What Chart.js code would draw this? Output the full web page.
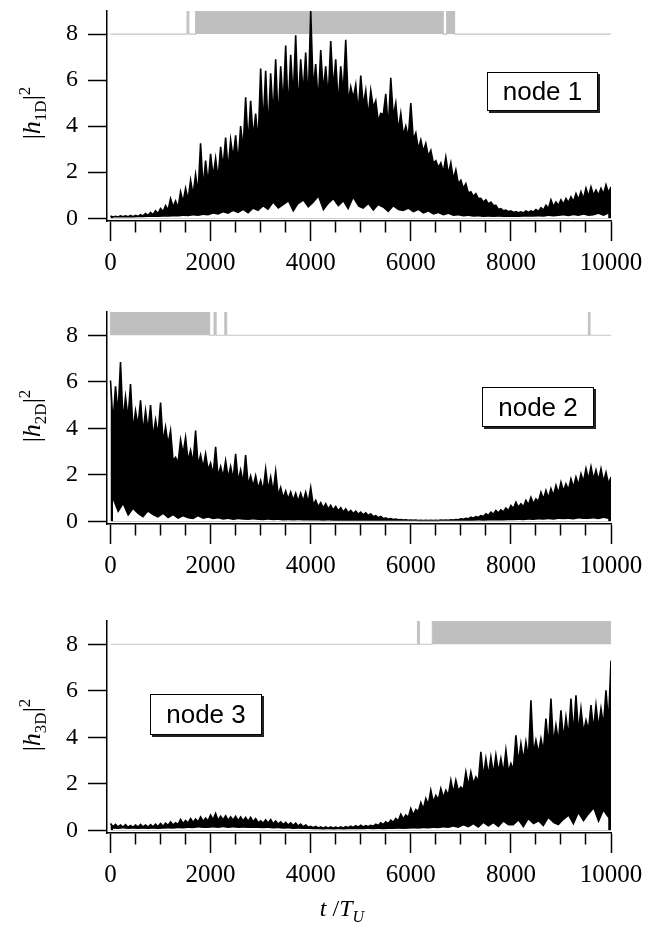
<!DOCTYPE html>
<html>
<head>
<meta charset="utf-8">
<script src="https://cdn.jsdelivr.net/npm/chart.js@4.4.0/dist/chart.umd.min.js"></script>
<style>
  body { margin: 0; background: #fff; }
  #wrap { position: relative; width: 647px; height: 932px; overflow: hidden; }
  canvas { position: absolute; left: 0; }
  .ylab {
    position: absolute; white-space: nowrap;
    font-family: "Liberation Serif", serif; font-size: 26px; line-height: 1;
    transform: translate(-50%, -50%) rotate(-90deg);
  }
  .ylab sub, .ylab sup { font-size: 17px; line-height: 0; }
  .xtitle sub { font-size: 16px; line-height: 0; }
  .node {
    position: absolute; box-sizing: border-box; background: #fff;
    border: 1.5px solid #000; box-shadow: 2px 2px 0 #222;
    font-family: "Liberation Sans", Arial, sans-serif; font-size: 26px;
    display: flex; align-items: center; justify-content: center;
  }
  .xtitle {
    position: absolute; white-space: nowrap; transform: translate(-50%, -50%);
    font-family: "Liberation Serif", serif; font-size: 24px; line-height: 1;
  }
</style>
</head>
<body>
<div id="wrap">
  <canvas id="p1" width="647" height="300" style="top:0px"></canvas>
  <canvas id="p2" width="647" height="300" style="top:301px"></canvas>
  <canvas id="p3" width="647" height="322" style="top:610px"></canvas>

  <div class="ylab" style="left:32px;top:113px">|<i>h</i><sub>1D</sub>|<sup>2</sup></div>
  <div class="ylab" style="left:32px;top:416px">|<i>h</i><sub>2D</sub>|<sup>2</sup></div>
  <div class="ylab" style="left:32px;top:725px">|<i>h</i><sub>3D</sub>|<sup>2</sup></div>

  <div class="node" style="left:487px;top:72px;width:111px;height:39px">node 1</div>
  <div class="node" style="left:482px;top:387px;width:112px;height:40px">node 2</div>
  <div class="node" style="left:150px;top:694px;width:112px;height:41px">node 3</div>

  <div class="xtitle" style="left:342px;top:908px"><i>t</i> /<i>T</i><sub><i>U</i></sub></div>
</div>

<script>
// peaks sit on multiples of 100; valleys and lower edge halfway between
const tStep = 100;
const tEnd = 10000;
const yTicks = [0, 2, 4, 6, 8];
const xMajorTicks = [0, 2000, 4000, 6000, 8000, 10000];
const xMinorStep = 500;
const bandLow = 8;
const bandHigh = 9;

// node 1
const node1Peaks = [
  0.1, 0.08, 0.1, 0.1, 0.12, 0.12, 0.15, 0.2, 0.25, 0.32,
  0.42, 0.55, 0.85, 0.75, 1.15, 1.3, 1.65, 1.9, 3.25, 2.5,
  2.8, 2.6, 3.1, 3.5, 3.4, 3.6, 4.0, 5.25, 5.1, 4.55,
  6.5, 6.4, 6.3, 6.9, 6.6, 7.5, 7.1, 7.95, 6.9, 7.2,
  9.0, 6.7, 7.3, 6.6, 7.7, 6.9, 6.6, 7.75, 5.7, 5.8,
  6.2, 5.55, 5.55, 5.1, 4.55, 5.4, 6.1, 5.0, 4.55, 4.0,
  5.0, 3.7, 3.4, 3.25, 2.95, 2.5, 2.4, 2.65, 2.4, 2.1,
  1.65, 1.5, 1.15, 1.07, 0.86, 0.8, 0.7, 0.56, 0.42, 0.35,
  0.32, 0.29, 0.28, 0.32, 0.32, 0.38, 0.46, 0.56, 0.8, 0.7,
  0.8, 0.86, 0.93, 1.07, 1.15, 1.3, 1.36, 1.22, 1.3, 1.45, 1.36
];
// top of the solid black part between spikes
const node1Valleys = [
  0.05, 0.05, 0.06, 0.06, 0.07, 0.08, 0.1, 0.12, 0.15, 0.2,
  0.28, 0.35, 0.5, 0.45, 0.7, 0.8, 1.0, 1.1, 1.3, 1.5,
  1.8, 1.7, 2.2, 2.1, 2.6, 2.4, 3.0, 3.2, 3.5, 3.3,
  4.0, 3.8, 4.4, 4.2, 4.9, 4.6, 5.2, 4.8, 5.4, 5.0,
  5.6, 5.0, 5.5, 5.2, 5.6, 4.9, 5.4, 5.0, 5.2, 4.6,
  4.9, 4.4, 4.8, 4.2, 4.5, 3.9, 4.4, 3.8, 3.6, 3.5,
  3.4, 3.0, 2.9, 2.7, 2.4, 2.2, 2.0, 1.9, 1.7, 1.5,
  1.3, 1.1, 0.95, 0.85, 0.7, 0.62, 0.55, 0.38, 0.32, 0.28,
  0.25, 0.24, 0.23, 0.25, 0.27, 0.3, 0.35, 0.42, 0.5, 0.55,
  0.6, 0.68, 0.72, 0.8, 0.85, 0.95, 1.0, 1.0, 1.05, 1.1
];
// lower edge of the trace
const node1Troughs = [
  0.03, 0.03, 0.03, 0.03, 0.03, 0.04, 0.04, 0.05, 0.05, 0.05,
  0.06, 0.07, 0.08, 0.08, 0.1, 0.09, 0.12, 0.1, 0.14, 0.12,
  0.2, 0.15, 0.25, 0.18, 0.3, 0.22, 0.35, 0.2, 0.4, 0.3,
  0.5, 0.35, 0.65, 0.4, 0.55, 0.7, 0.25, 0.6, 0.75, 0.45,
  0.65, 0.9, 0.3, 0.6, 0.8, 0.5, 0.7, 0.35, 0.85, 0.5,
  0.4, 0.6, 0.3, 0.55, 0.45, 0.25, 0.5, 0.35, 0.3, 0.4,
  0.25, 0.35, 0.2, 0.28, 0.15, 0.22, 0.12, 0.18, 0.1, 0.12,
  0.08, 0.1, 0.06, 0.08, 0.05, 0.07, 0.05, 0.06, 0.05, 0.05,
  0.05, 0.05, 0.06, 0.06, 0.07, 0.08, 0.07, 0.1, 0.08, 0.1,
  0.12, 0.09, 0.13, 0.1, 0.15, 0.1, 0.12, 0.18, 0.1, 0.2
];
const node1Bands = [[1530, 1565], [1700, 6650], [6715, 6875]];

// node 2
const node2Peaks = [
  6.05, 5.8, 6.85, 5.35, 5.9, 4.75, 5.2, 4.75, 5.0, 4.35,
  5.1, 4.05, 3.9, 2.75, 3.5, 3.6, 3.05, 3.9, 2.85, 2.9,
  2.5, 3.2, 2.35, 2.6, 2.35, 2.9, 2.2, 2.85, 1.95, 1.95,
  1.75, 2.25, 1.9, 2.15, 1.45, 1.3, 1.25, 1.2, 1.2, 1.25,
  1.45, 0.9, 0.8, 0.75, 0.68, 0.63, 0.58, 0.53, 0.46, 0.43,
  0.39, 0.36, 0.32, 0.24, 0.2, 0.14, 0.11, 0.09, 0.07, 0.06,
  0.05, 0.05, 0.04, 0.04, 0.04, 0.04, 0.05, 0.05, 0.06, 0.07,
  0.1, 0.12, 0.17, 0.2, 0.24, 0.32, 0.39, 0.46, 0.49, 0.57,
  0.68, 0.82, 0.75, 0.9, 1.03, 0.96, 1.25, 1.32, 1.4, 1.54,
  1.68, 1.6, 1.82, 1.9, 2.04, 2.26, 2.35, 2.2, 2.26, 2.1, 1.9
];
const node2Valleys = [
  4.2, 4.6, 4.3, 4.4, 3.9, 4.1, 3.8, 3.9, 3.6, 3.7,
  3.4, 3.3, 2.6, 2.5, 2.9, 2.6, 2.5, 2.4, 2.3, 2.2,
  2.0, 1.9, 1.9, 1.85, 1.8, 1.7, 1.65, 1.55, 1.5, 1.4,
  1.3, 1.35, 1.25, 1.1, 1.0, 0.95, 0.9, 0.85, 0.85, 0.8,
  0.7, 0.62, 0.56, 0.52, 0.48, 0.44, 0.4, 0.36, 0.33, 0.3,
  0.27, 0.24, 0.19, 0.15, 0.11, 0.09, 0.07, 0.06, 0.05, 0.04,
  0.04, 0.03, 0.03, 0.03, 0.03, 0.03, 0.04, 0.04, 0.05, 0.06,
  0.08, 0.1, 0.13, 0.16, 0.2, 0.25, 0.3, 0.35, 0.4, 0.45,
  0.55, 0.6, 0.62, 0.7, 0.75, 0.85, 0.95, 1.0, 1.1, 1.2,
  1.3, 1.35, 1.45, 1.55, 1.7, 1.8, 1.8, 1.75, 1.7, 1.6
];
const node2Troughs = [
  0.9, 0.35, 0.7, 0.2, 0.5, 0.3, 0.15, 0.4, 0.25, 0.15,
  0.3, 0.12, 0.25, 0.1, 0.2, 0.12, 0.08, 0.2, 0.1, 0.15,
  0.08, 0.12, 0.06, 0.1, 0.05, 0.08, 0.06, 0.05, 0.07, 0.05,
  0.04, 0.06, 0.04, 0.05, 0.03, 0.04, 0.03, 0.04, 0.03, 0.03,
  0.03, 0.03, 0.02, 0.03, 0.02, 0.02, 0.02, 0.02, 0.02, 0.02,
  0.02, 0.02, 0.02, 0.02, 0.02, 0.02, 0.02, 0.02, 0.02, 0.02,
  0.02, 0.02, 0.02, 0.02, 0.02, 0.02, 0.02, 0.02, 0.02, 0.02,
  0.02, 0.02, 0.02, 0.03, 0.02, 0.03, 0.03, 0.03, 0.03, 0.04,
  0.04, 0.05, 0.04, 0.06, 0.05, 0.07, 0.06, 0.08, 0.06, 0.09,
  0.08, 0.1, 0.07, 0.12, 0.09, 0.1, 0.12, 0.08, 0.14, 0.1
];
const node2Bands = [[0, 1980], [2070, 2110], [2285, 2320], [9550, 9580]];

// node 3
const node3Peaks = [
  0.29, 0.25, 0.22, 0.24, 0.2, 0.22, 0.25, 0.22, 0.24, 0.26,
  0.29, 0.3, 0.36, 0.32, 0.46, 0.42, 0.5, 0.48, 0.57, 0.52,
  0.65, 0.72, 0.6, 0.62, 0.57, 0.6, 0.57, 0.55, 0.55, 0.5,
  0.4, 0.45, 0.46, 0.4, 0.36, 0.34, 0.32, 0.3, 0.26, 0.22,
  0.17, 0.16, 0.14, 0.14, 0.14, 0.13, 0.14, 0.15, 0.17, 0.19,
  0.21, 0.2, 0.21, 0.26, 0.32, 0.36, 0.43, 0.5, 0.69, 0.65,
  0.93, 0.89, 1.19, 1.36, 1.72, 1.5, 1.79, 1.72, 2.15, 2.15,
  1.86, 2.5, 2.5, 2.29, 3.37, 3.08, 3.15, 3.23, 3.08, 3.44,
  2.87, 4.08, 3.73, 3.8, 5.59, 3.87, 3.94, 4.8, 5.66, 4.52,
  5.16, 4.87, 5.66, 5.8, 5.23, 4.73, 5.38, 5.38, 5.23, 6.02, 7.3
];
const node3Valleys = [
  0.15, 0.14, 0.13, 0.13, 0.12, 0.13, 0.14, 0.13, 0.14, 0.15,
  0.17, 0.2, 0.22, 0.25, 0.28, 0.3, 0.33, 0.35, 0.38, 0.4,
  0.45, 0.42, 0.44, 0.42, 0.43, 0.4, 0.4, 0.38, 0.36, 0.32,
  0.3, 0.3, 0.28, 0.26, 0.24, 0.22, 0.2, 0.18, 0.15, 0.13,
  0.11, 0.1, 0.09, 0.09, 0.09, 0.09, 0.1, 0.11, 0.12, 0.13,
  0.14, 0.15, 0.17, 0.2, 0.24, 0.28, 0.34, 0.4, 0.48, 0.55,
  0.65, 0.8, 0.9, 1.1, 1.2, 1.3, 1.4, 1.5, 1.6, 1.7,
  1.75, 1.9, 2.0, 2.1, 2.3, 2.35, 2.4, 2.5, 2.45, 2.5,
  2.6, 2.9, 3.0, 3.1, 3.3, 3.3, 3.4, 3.6, 3.7, 3.8,
  3.9, 4.0, 4.1, 4.2, 4.2, 4.3, 4.3, 4.4, 4.5, 4.6
];
const node3Troughs = [
  0.06, 0.05, 0.07, 0.05, 0.06, 0.05, 0.06, 0.05, 0.06, 0.05,
  0.06, 0.07, 0.06, 0.08, 0.07, 0.1, 0.08, 0.12, 0.09, 0.1,
  0.12, 0.1, 0.13, 0.1, 0.12, 0.1, 0.11, 0.1, 0.09, 0.1,
  0.08, 0.09, 0.07, 0.08, 0.06, 0.07, 0.05, 0.06, 0.05, 0.05,
  0.04, 0.04, 0.03, 0.04, 0.03, 0.04, 0.03, 0.04, 0.04, 0.04,
  0.04, 0.05, 0.04, 0.05, 0.04, 0.05, 0.05, 0.06, 0.05, 0.06,
  0.07, 0.06, 0.08, 0.07, 0.1, 0.08, 0.12, 0.1, 0.15, 0.1,
  0.2, 0.12, 0.25, 0.1, 0.3, 0.15, 0.29, 0.12, 0.35, 0.2,
  0.2, 0.4, 0.1, 0.45, 0.25, 0.36, 0.15, 0.5, 0.3, 0.2,
  0.43, 0.6, 0.2, 0.7, 0.35, 0.65, 0.9, 0.3, 0.8, 0.5
];
const node3Bands = [[6135, 6170], [6430, 10000]];

const xTickValues = [];
for (let v = 0; v <= tEnd; v += xMinorStep) xTickValues.push(v);

// alternate peak / valley: spikes on top of the dense oscillation
function zigzag(peaks, valleys) {
  const pts = [];
  peaks.forEach((p, i) => {
    pts.push({ x: i * tStep, y: p });
    if (i < valleys.length) pts.push({ x: i * tStep + tStep / 2, y: valleys[i] });
  });
  return pts;
}

function bandPoints(bands) {
  const pts = [{ x: 0, y: bandLow }];
  bands.forEach(([s, e]) => {
    pts.push({ x: s, y: bandLow }, { x: s, y: bandHigh }, { x: e, y: bandHigh }, { x: e, y: bandLow });
  });
  pts.push({ x: tEnd, y: bandLow });
  return pts;
}

function makePanel(id, peaks, valleys, troughs, bands, xAxisHeight) {
  const ctx = document.getElementById(id).getContext('2d');
  return new Chart(ctx, {
    type: 'line',
    data: {
      datasets: [
        {
          // white gap under the lower edge (drawn on top)
          data: troughs.map((y, i) => ({ x: i * tStep + tStep / 2, y })),
          borderWidth: 0,
          borderColor: 'rgba(0,0,0,0)',
          backgroundColor: '#fff',
          pointRadius: 0,
          tension: 0,
          fill: 'origin'
        },
        {
          data: zigzag(peaks, valleys),
          borderColor: '#000',
          backgroundColor: '#000',
          borderWidth: 1.6,
          pointRadius: 0,
          tension: 0,
          fill: 'origin'
        },
        {
          data: bandPoints(bands),
          borderColor: '#c4c4c4',
          backgroundColor: '#bfbfbf',
          borderWidth: 1.2,
          pointRadius: 0,
          tension: 0,
          fill: { value: bandLow }
        }
      ]
    },
    options: {
      responsive: false,
      animation: false,
      events: [],
      layout: { padding: { top: 11, right: 36, left: 0, bottom: 0 } },
      plugins: { legend: { display: false }, tooltip: { enabled: false } },
      scales: {
        x: {
          type: 'linear',
          min: -70,
          max: tEnd,
          afterBuildTicks: s => { s.ticks = xTickValues.map(v => ({ value: v })); },
          afterFit: s => { s.height = xAxisHeight; s.paddingLeft = 0; s.paddingRight = 0; },
          border: { color: '#000', width: 1.5 },
          grid: {
            drawOnChartArea: false,
            tickLength: 20,
            tickColor: '#000',
            tickWidth: 1.5,
            tickBorderDash: c => (c.tick && !xMajorTicks.includes(c.tick.value)) ? [11, 40] : []
          },
          ticks: {
            autoSkip: false,
            maxRotation: 0,
            padding: 7,
            color: '#000',
            font: { family: 'Liberation Serif', size: 25 },
            callback: v => xMajorTicks.includes(v) ? String(v) : ''
          }
        },
        y: {
          min: -0.12,
          max: bandHigh,
          afterBuildTicks: s => { s.ticks = yTicks.map(v => ({ value: v })); },
          afterFit: s => { s.width = 107; s.paddingTop = 0; s.paddingBottom = 0; },
          border: { color: '#000', width: 1.5 },
          grid: { drawOnChartArea: false, tickLength: 19, tickColor: '#000', tickWidth: 1.5 },
          ticks: {
            padding: 10,
            color: '#000',
            font: { family: 'Liberation Serif', size: 24 }
          }
        }
      }
    }
  });
}

window.onload = () => {
  makePanel('p1', node1Peaks, node1Valleys, node1Troughs, node1Bands, 79);
  makePanel('p2', node2Peaks, node2Valleys, node2Troughs, node2Bands, 77);
  makePanel('p3', node3Peaks, node3Valleys, node3Troughs, node3Bands, 99);
};
</script>
</body>
</html>
